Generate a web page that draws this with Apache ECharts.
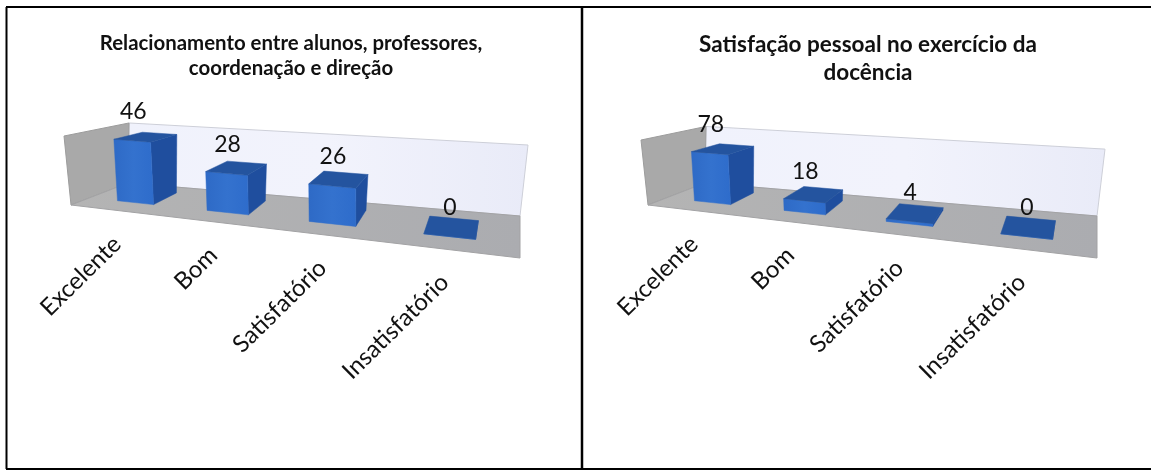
<!DOCTYPE html>
<html><head><meta charset="utf-8">
<style>html,body{margin:0;padding:0;background:#fff}#c{width:1151px;height:470px}</style>
<script src="https://cdn.jsdelivr.net/npm/echarts@6/dist/echarts.min.js"></script>
</head><body><div id="c"></div>
<script>
const categories = ['Excelente','Bom','Satisfatório','Insatisfatório'];
const valuesLeft = [46,28,26,0];
const valuesRight = [78,18,4,0];
const titleLeft = 'Relacionamento entre alunos, professores,\ncoordenação e direção';
const titleRight = 'Satisfação pessoal no exercício da\ndocência';
const FONT = 'Lato, Carlito, sans-serif';

// Oblique projection of the plot box: t along the floor, d into depth, f up the value axis
function P(cs,t,d,f){
  const lean=-7+8*d+7*t;
  return [
    cs.x+cs.width*t+57*(1-t)*d+f*lean,
    cs.y+cs.height+53*t-(22+20*t)*d-f*cs.height*(1+0.183*t)*(1-0.13*d)
  ];
}
const warp=u=>0.232*u*u+0.7416*u+0.0093;
const poly=(points,fill,stroke)=>({type:'polygon',shape:{points},style:{fill,stroke:stroke||fill,lineWidth:stroke?1:0.5}});

function renderBox(params,api){
  const cs=params.coordSys;
  const pw=(a,b,c)=>P(cs,a,b,c);
  const grad=(a,b,c,d,stops)=>new echarts.graphic.LinearGradient(a,b,c,d,stops);
  return {type:'group',silent:true,children:[
    // back wall
    poly([pw(0,1,0),pw(0,1,1),pw(1,1,1),pw(1,1,0)],
      grad(0,0,1,0,[{offset:0,color:'#F0F2FC'},{offset:0.5,color:'#F2F3FC'},{offset:1,color:'#E9EBF8'}]),'#CDCFD8'),
    // side wall
    poly([pw(0,0,0),pw(0,0,1),pw(0,1,1),pw(0,1,0)],'#A9A9A9','#9C9C9C'),
    // floor
    poly([pw(0,0,0),pw(1,0,0),pw(1,1,0),pw(0,1,0)],
      grad(0,0,1,0,[{offset:0,color:'#B4B4B4'},{offset:1,color:'#ABACB0'}]),'#A2A2A4')
  ]};
}
function renderBar(params,api){
  const cs=params.coordSys, i=api.value(0), v=api.value(1);
  const c=api.coord([i,v]), c0=api.coord([i,0]);
  const band=api.size([1,0])[0]/cs.width;
  const uc=(c[0]-cs.x)/cs.width, frac=(c0[1]-c[1])/cs.height;
  const t0=warp(uc-band*0.21), t1=warp(uc+band*0.21), tm=warp(uc);
  const d0=0.33, d1=0.8;
  const A=P(cs,t0,d0,frac),B=P(cs,t1,d0,frac),C=P(cs,t1,d1,frac),D=P(cs,t0,d1,frac);
  const a=P(cs,t0,d0,0),b=P(cs,t1,d0,0),e=P(cs,t1,d1,0);
  const mid=P(cs,tm,d0,frac), base=P(cs,tm,d0,0);
  const front=new echarts.graphic.LinearGradient(0,0,1,0,[{offset:0,color:'#2E6AC6'},{offset:0.5,color:'#3472CE'},{offset:1,color:'#2E6CCB'}]);
  const children=[
    poly([b,e,C,B],'#1F4E9E'),
    poly([a,b,B,A],front),
    poly([A,B,C,D],'#24549F'),
    {type:'text',x:mid[0]+1.5-tm,y:mid[1]-29,style:{text:String(v),font:'23px '+FONT,fill:'#111',align:'center',verticalAlign:'middle'}},
    {type:'text',x:base[0]-20+18.5*tm,y:base[1]+37+6*tm,rotation:44.5*Math.PI/180,
      style:{text:categories[i],font:'24px '+FONT,fill:'#111',align:'right',verticalAlign:'middle'}}
  ];
  return {type:'group',silent:true,children};
}
function seriesFor(idx,vals){
  return [
    {type:'custom',xAxisIndex:idx,yAxisIndex:idx,z:1,renderItem:renderBox,data:[[0,0]],clip:false,silent:true},
    {type:'custom',xAxisIndex:idx,yAxisIndex:idx,z:2,renderItem:renderBar,data:vals.map((v,i)=>[i,v]),clip:false,silent:true}
  ];
}
const frame=[[6,7,1151,7,2],[6,469,1151,469,2],[6.5,7,6.5,469,2],[582,7,582,469,2.5]];
const chart=echarts.init(document.getElementById('c'),null,{renderer:'canvas'});
chart.setOption({
  animation:false,
  title:[
    {text:titleLeft,left:286,top:26,textAlign:'center',textStyle:{fontFamily:FONT,fontWeight:'bold',fontSize:20.4,lineHeight:25,color:'#111'}},
    {text:titleRight,left:863,top:26,textAlign:'center',textStyle:{fontFamily:FONT,fontWeight:'bold',fontSize:22.5,lineHeight:28,color:'#111'}}
  ],
  grid:[
    {left:71,width:449,top:136,height:69},
    {left:648,width:449,top:140,height:65}
  ],
  xAxis:[
    {type:'category',gridIndex:0,data:categories,show:false},
    {type:'category',gridIndex:1,data:categories,show:false}
  ],
  yAxis:[
    {type:'value',gridIndex:0,min:0,max:50,show:false},
    {type:'value',gridIndex:1,min:0,max:100,show:false}
  ],
  graphic:frame.map(l=>({type:'line',silent:true,z:10,shape:{x1:l[0],y1:l[1],x2:l[2],y2:l[3]},style:{stroke:'#000',lineWidth:l[4]}})),
  series:[...seriesFor(0,valuesLeft),...seriesFor(1,valuesRight)]
});
</script></body></html>
